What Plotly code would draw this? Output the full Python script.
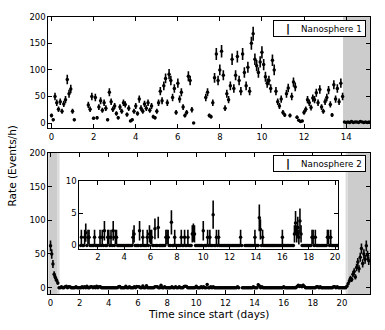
import plotly.graph_objects as go

# two-hour bins, in days
BIN_DAYS = 2 / 24

# Nanosphere 1: start day of each run of bins, then the rate in each bin (events/h)
NS1_STARTS = [0.0, 1.75, 3.17, 7.33, 13.92]
NS1_RATES = [
    [14, 6, 50, 38, 26, 40, 22, 36, 44, 82, 55, 64, 22, 6],
    [34, 26, 50, 9, 48, 10, 30, 42, 24, 38, 28, 6, 58, 40, 26, 32, 18],
    [10, 30, 22, 38, 35, 16, 28, 4, 6, 22,
     32, 18, 45, 28, 22, 36, 28, 38, 24, 32, 12, 10,
     22, 38, 60, 42, 70, 84, 38, 92, 80, 48, 65, 20,
     75, 45, 58, 30, 14, 20, 88, 80, 25, 0],
    [48, 58, 14, 12, 38, 85, 130, 80,
     100, 135, 90, 28, 55, 44, 70, 120, 65, 90, 125, 80,
     60, 130, 95, 70, 105, 60, 150, 168, 120, 108, 95, 115,
     133, 110, 87, 75, 80, 65, 118, 100, 60, 40, 32, 45,
     20, 15, 55, 66, 14, 50, 77, 68, 11, 5, 3, 4,
     20, 26, 44, 38, 29, 47, 44, 57, 38, 63, 30, 22,
     40, 48, 62, 35, 15, 72, 45, 65, 40, 75, 50],
    [2, 1, 2, 1, 3, 1, 2, 2, 1, 3, 2, 1, 2, 1, 2],
]

# Nanosphere 2
NS2_STARTS = [0.0, 13.17]
NS2_RATES = [
    [62, 50, 35, 20, 15, 11, 7, 0, 0, 1.3, 0, 0,
     1.3, 2.0, 0, 1.3, 1.3, 0, 0, 0, 0, 1.3, 0, 0,
     0, 0, 1.3, 0, 1.3, 0, 2.3, 0, 0, 1.3, 1.3, 0,
     1.3, 0, 2.3, 0, 1.3, 1.3, 0, 0, 0, 0, 0, 0,
     0, 0, 0, 0, 0, 0, 0, 0, 1.3, 1.8, 0, 0,
     0, 0, 2.3, 0, 0, 1.3, 0, 0, 0, 1.3, 0, 1.8,
     1.3, 1.3, 0, 0, 2.6, 0, 0, 2.8, 0, 0, 0, 0,
     0, 0, 1.3, 1.3, 1.3, 0, 0, 3.6, 0, 0, 1.3, 0,
     0, 0, 0, 0, 1.3, 0, 0, 1.3, 0, 0, 1.3, 0,
     0, 0, 1.8, 2.0, 1.8, 0, 0, 0, 0, 0, 0, 0,
     2.3, 0, 0, 0, 1.3, 0, 1.3, 0, 0, 4.8, 0, 0,
     1.3, 0, 1.3, 0, 0, 0, 0, 0, 0, 0, 0, 0,
     0, 0, 0, 0, 0, 0, 0, 0, 0, 0, 1.3, 0],
    [0, 0, 0, 0, 0, 0, 0, 0, 0, 1.3,
     0, 0, 0, 4.3, 2.5, 0, 1.3, 0, 0, 0, 0, 0,
     0, 0, 0, 0, 0, 0, 0, 0, 0, 0, 0, 0,
     1.3, 0, 0, 0, 0, 0, 0, 0, 0, 0, 0, 1.8,
     3.5, 1.8, 2.8, 1.3, 3.8, 1.8, 0, 0, 0, 0, 0, 0,
     0, 0, 0, 1.3, 1.3, 0, 1.3, 0, 0, 0, 0, 0,
     0, 0, 0, 0, 0, 1.3, 1.3, 0, 1.3, 0, 0, 0,
     0, 0, 0, 0, 2, 6, 10, 14, 12, 20, 24, 16,
     30, 38, 28, 45, 58, 36, 50, 42, 62, 48, 40],
]

SERIES_NAMES = ["Nanosphere 1", "Nanosphere 2"]

# periods shaded grey (days)
NS1_SHADE = [(13.85, 15.3)]
NS2_SHADE = [(-0.3, 0.47), (20.38, 22.1)]
NS2_SHADE_EDGE = [(0.47, 0.62), (20.25, 20.38)]

# inset shows the part between the shaded periods
INSET_RANGE = (0.6, 20.25)


def bin_times(starts, rates):
    t, r = [], []
    for s, vals in zip(starts, rates):
        for i, v in enumerate(vals):
            t.append(s + i * BIN_DAYS)
            r.append(v)
    return t, r


t1, r1 = bin_times(NS1_STARTS, NS1_RATES)
t2, r2 = bin_times(NS2_STARTS, NS2_RATES)
t3 = [t for t in t2 if INSET_RANGE[0] <= t <= INSET_RANGE[1]]
r3 = [r for t, r in zip(t2, r2) if INSET_RANGE[0] <= t <= INSET_RANGE[1]]

FONT = "DejaVu Sans"
pts = dict(color="black", size=3.5)
errs = dict(type="sqrt", color="black", thickness=1.6, width=0)

fig = go.Figure()
fig.add_trace(go.Scatter(x=t1, y=r1, mode="markers", marker=pts, error_y=errs,
                         xaxis="x", yaxis="y", name=SERIES_NAMES[0], showlegend=False))
fig.add_trace(go.Scatter(x=t2, y=r2, mode="markers", marker=pts, error_y=errs,
                         xaxis="x2", yaxis="y2", name=SERIES_NAMES[1], showlegend=False))
fig.add_trace(go.Scatter(x=t3, y=r3, mode="markers", marker=pts, error_y=errs,
                         xaxis="x3", yaxis="y3", name=SERIES_NAMES[1], showlegend=False))

for a, b in NS1_SHADE:
    fig.add_shape(type="rect", xref="x", yref="y domain", x0=a, x1=b, y0=0, y1=1,
                  fillcolor="#cccccc", line_width=0, layer="below")
for a, b in NS2_SHADE:
    fig.add_shape(type="rect", xref="x2", yref="y2 domain", x0=a, x1=b, y0=0, y1=1,
                  fillcolor="#cccccc", line_width=0, layer="below")
for a, b in NS2_SHADE_EDGE:
    fig.add_shape(type="rect", xref="x2", yref="y2 domain", x0=a, x1=b, y0=0, y1=1,
                  fillcolor="#dadada", line_width=0, layer="below")

ax = dict(showline=True, linecolor="black", linewidth=1, mirror="allticks",
          ticks="inside", ticklen=4, tickcolor="black", showgrid=False, zeroline=False,
          tickfont=dict(family=FONT, size=8.5, color="black"))

# small boxed legends, one per panel (error-bar glyph + name)
NB = "\u00a0"
legend_boxes = []
for name, ytop in zip(SERIES_NAMES, [0.953, 0.535]):
    legend_boxes.append(dict(
        text=NB * 4 + "<span style='font-size:11px;color:black'><b>|</b></span>"
             + NB * 4 + name + NB,
        xref="paper", yref="paper", x=0.956, y=ytop, xanchor="right", yanchor="top",
        showarrow=False, bgcolor="white", bordercolor="black", borderwidth=1, borderpad=1,
        font=dict(family=FONT, size=8.7, color="black")))

fig.update_layout(
    width=385, height=330,
    margin=dict(l=0, r=0, t=0, b=0),
    paper_bgcolor="white", plot_bgcolor="white",
    font=dict(family=FONT, size=9, color="black"),
    showlegend=False,
    xaxis=dict(ax, domain=[0.1239, 0.967], anchor="y", range=[-0.15, 15.15], dtick=2, tick0=0),
    yaxis=dict(ax, domain=[0.6182, 0.9636], anchor="x", range=[-10, 200], dtick=50),
    xaxis2=dict(ax, domain=[0.1239, 0.967], anchor="y2", range=[-0.15, 21.95], dtick=2, tick0=0),
    yaxis2=dict(ax, domain=[0.1039, 0.5424], anchor="x2", range=[-10, 200], dtick=50),
    xaxis3=dict(ax, domain=[0.2052, 0.8831], anchor="y3", range=list(INSET_RANGE), dtick=2, tick0=0),
    yaxis3=dict(ax, domain=[0.2455, 0.4545], anchor="x3", range=[-0.5, 10], dtick=5),
    annotations=legend_boxes + [
        dict(text="Time since start (days)", xref="paper", yref="paper", x=0.543, y=0.0424,
             xanchor="center", yanchor="middle", showarrow=False,
             font=dict(family=FONT, size=10.5)),
        dict(text="Rate (Events/h)", xref="paper", yref="paper", x=0.0286, y=0.503,
             xanchor="center", yanchor="middle", textangle=-90, showarrow=False,
             font=dict(family=FONT, size=10.5)),
    ],
)

# page body has a default margin; drop it so the figure fills the window
fig.write_html("out.html", config={"displayModeBar": False},
               post_script="document.body.style.margin='0px';")
